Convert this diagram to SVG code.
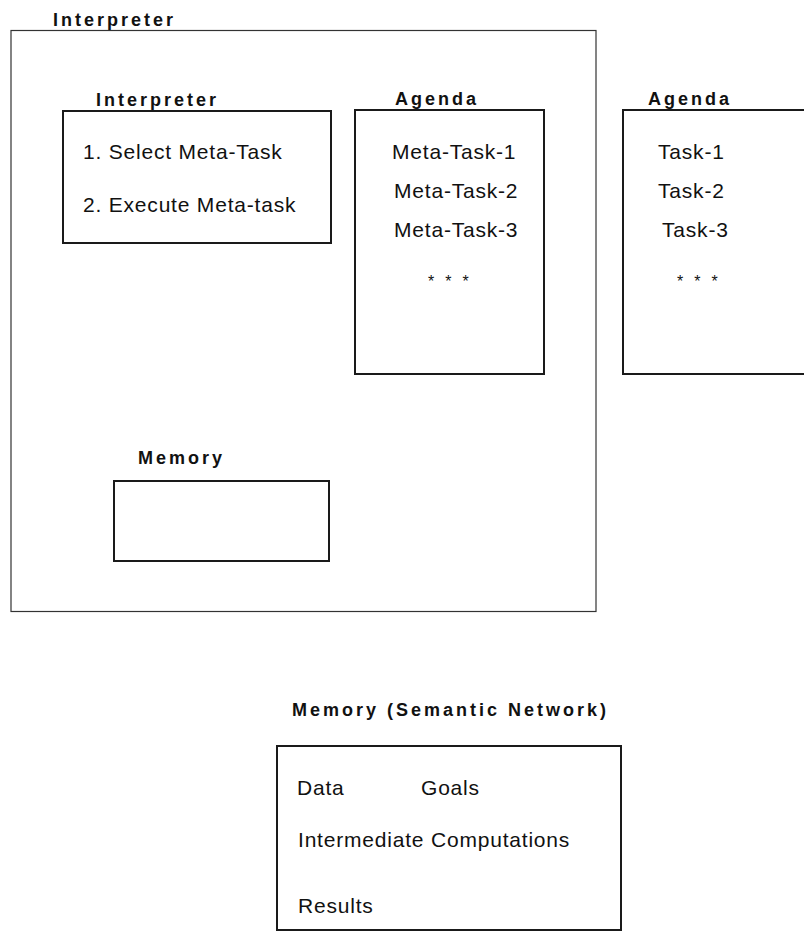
<svg xmlns="http://www.w3.org/2000/svg" width="804" height="932" viewBox="0 0 804 932">
<style>
.box{fill:none;stroke:#1a1a1a;stroke-width:2}
.outer{fill:none;stroke:#333;stroke-width:1.2}
.lbl{font-family:"Liberation Sans",Arial,sans-serif;font-weight:bold;font-size:18px;letter-spacing:3px;fill:#111}
.txt{font-family:"Liberation Sans",Arial,sans-serif;font-size:21px;letter-spacing:0.8px;fill:#111}
.star{font-family:"Liberation Sans",Arial,sans-serif;font-size:16px;fill:#111}
</style>
<rect width="804" height="932" fill="#fff"/>
<g id="interpreter-outer">
<rect class="outer" x="11" y="30.5" width="585" height="581"/>
<text class="lbl" x="53" y="26">Interpreter</text>
</g>
<g id="interpreter-inner">
<rect class="box" x="63" y="111" width="268" height="132"/>
<text class="lbl" x="96" y="106">Interpreter</text>
<text class="txt" x="83" y="159">1.  Select Meta-Task</text>
<text class="txt" x="83" y="212">2.  Execute Meta-task</text>
</g>
<g id="agenda-meta">
<rect class="box" x="355" y="110" width="189" height="264"/>
<text class="lbl" x="395" y="105">Agenda</text>
<text class="txt" x="392" y="159">Meta-Task-1</text>
<text class="txt" x="394" y="198">Meta-Task-2</text>
<text class="txt" x="394" y="237">Meta-Task-3</text>
<text class="star" x="428" y="287" letter-spacing="11">***</text>
</g>
<g id="agenda-task">
<path class="box" d="M806,110 H623 V374 H806"/>
<text class="lbl" x="648" y="105">Agenda</text>
<text class="txt" x="658" y="159">Task-1</text>
<text class="txt" x="658" y="198">Task-2</text>
<text class="txt" x="662" y="237">Task-3</text>
<text class="star" x="677" y="287" letter-spacing="11">***</text>
</g>
<g id="memory-inner">
<rect class="box" x="114" y="481" width="215" height="80"/>
<text class="lbl" x="138" y="464">Memory</text>
</g>
<g id="memory-semantic">
<rect class="box" x="277" y="746" width="344" height="184"/>
<text class="lbl" x="292" y="716">Memory  (Semantic Network)</text>
<text class="txt" x="297" y="795">Data</text>
<text class="txt" x="421" y="795">Goals</text>
<text class="txt" x="298" y="847">Intermediate Computations</text>
<text class="txt" x="298" y="913">Results</text>
</g>
<g id="connectors"></g>
</svg>
